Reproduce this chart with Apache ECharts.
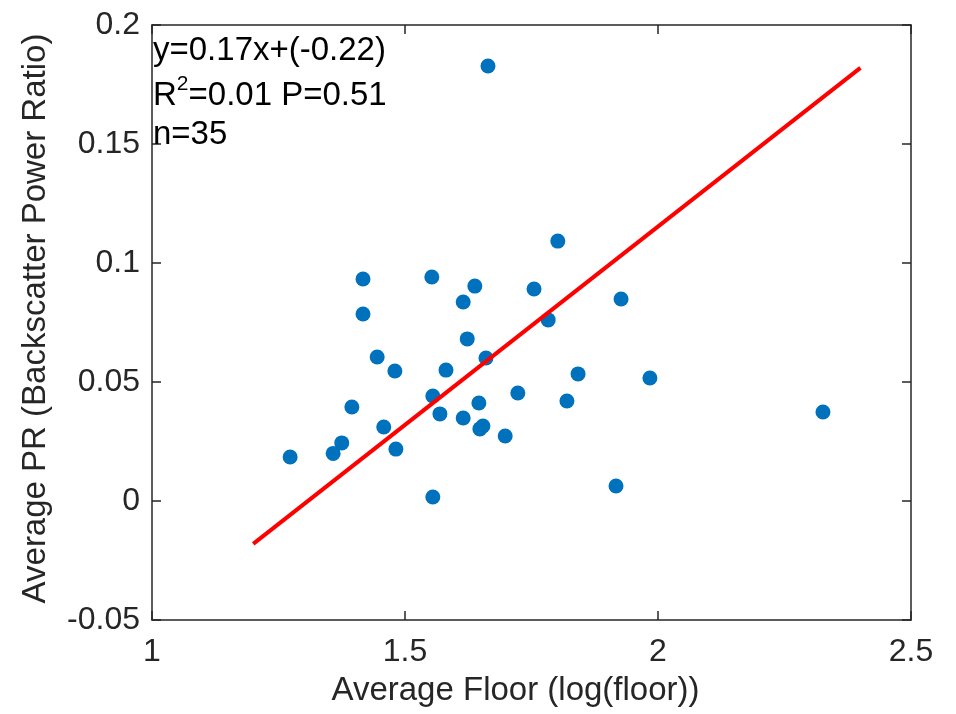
<!DOCTYPE html>
<html>
<head>
<meta charset="utf-8">
<script src="https://cdn.jsdelivr.net/npm/echarts@6/dist/echarts.min.js"></script>
<style>
html,body{margin:0;padding:0;background:#fff;}
#chart{width:956px;height:714px;}
</style>
</head>
<body>
<div id="chart"></div>
<script>
// Scatter data: average floor (log) vs average power ratio
var floorX = [1.273, 1.358, 1.375, 1.395, 1.417, 1.417, 1.445, 1.458, 1.480, 1.482,
              1.553, 1.555, 1.555, 1.569, 1.581, 1.615, 1.615, 1.623, 1.638, 1.646,
              1.648, 1.654, 1.660, 1.664, 1.698, 1.723, 1.755, 1.783, 1.802, 1.820,
              1.842, 1.917, 1.927, 1.984, 2.326];
var prY = [0.0185, 0.0200, 0.0244, 0.0395, 0.0933, 0.0786, 0.0605, 0.0311, 0.0546, 0.0218,
           0.0941, 0.0441, 0.0017, 0.0366, 0.0550, 0.0836, 0.0349, 0.0681, 0.0903, 0.0412,
           0.0303, 0.0315, 0.0601, 0.1828, 0.0273, 0.0454, 0.0891, 0.0761, 0.1092, 0.0420,
           0.0534, 0.0063, 0.0849, 0.0517, 0.0374];
// Fitted line endpoints
var fitX = [1.2, 2.4];
var fitY = [-0.018, 0.182];
// Axis ticks
var xTicks = [1, 1.5, 2, 2.5];
var yTicks = [-0.05, 0, 0.05, 0.1, 0.15, 0.2];
var xTickLabels = ['1', '1.5', '2', '2.5'];
var yTickLabels = ['-0.05', '0', '0.05', '0.1', '0.15', '0.2'];
// Annotation text
var annEq = 'y=0.17x+(-0.22)';
var annR2 = '0.01';
var annP = '0.51';
var annN = 'n=35';

var FONT = 'Liberation Sans, Arial, sans-serif';
var AX = '#262626';

function lab(list, labels) {
  return function (v) {
    for (var i = 0; i < list.length; i++) {
      if (Math.abs(list[i] - v) < 1e-9) return labels[i];
    }
    return '';
  };
}

var scatterData = floorX.map(function (x, i) { return [x, prY[i]]; });
var fitData = fitX.map(function (x, i) { return [x, fitY[i]]; });

var axisCommon = {
  axisLine: { show: true, onZero: false, lineStyle: { color: AX, width: 1.5 } },
  axisTick: { show: true, inside: true, length: 9, lineStyle: { color: AX, width: 1.5 } },
  splitLine: { show: false }
};

var chart = echarts.init(document.getElementById('chart'), null, { renderer: 'canvas' });
chart.setOption({
  animation: false,
  backgroundColor: '#fff',
  grid: { left: 152, right: 45, top: 25, bottom: 94, containLabel: false },
  xAxis: [
    Object.assign({
      type: 'value', position: 'bottom', min: 1, max: 2.5, interval: 0.5,
      name: 'Average Floor (log(floor))', nameLocation: 'middle', nameGap: 54,
      nameTextStyle: { fontFamily: FONT, fontSize: 33, color: AX, padding: [0, 32, 0, 0] },
      axisLabel: { show: true, margin: 16, fontFamily: FONT, fontSize: 32, color: AX,
                   formatter: lab(xTicks, xTickLabels) }
    }, axisCommon),
    Object.assign({
      type: 'value', position: 'top', min: 1, max: 2.5, interval: 0.5,
      axisLabel: { show: false }
    }, axisCommon)
  ],
  yAxis: [
    Object.assign({
      type: 'value', position: 'left', min: -0.05, max: 0.2, interval: 0.05,
      name: 'Average PR (Backscatter Power Ratio)', nameLocation: 'middle', nameGap: 100,
      nameRotate: 90,
      nameTextStyle: { fontFamily: FONT, fontSize: 33, color: AX, padding: [0, 0, 0, 8] },
      axisLabel: { show: true, margin: 12, fontFamily: FONT, fontSize: 32, color: AX,
                   formatter: lab(yTicks, yTickLabels) }
    }, axisCommon),
    Object.assign({
      type: 'value', position: 'right', min: -0.05, max: 0.2, interval: 0.05,
      axisLabel: { show: false }
    }, axisCommon)
  ],
  series: [
    {
      type: 'scatter', xAxisIndex: 0, yAxisIndex: 0,
      data: scatterData, symbol: 'circle', symbolSize: 15,
      itemStyle: { color: '#0072BD', opacity: 1 }, z: 3
    },
    {
      type: 'line', xAxisIndex: 0, yAxisIndex: 0,
      data: fitData, symbol: 'none',
      lineStyle: { color: '#FF0000', width: 4 }, z: 4
    }
  ],
  graphic: [
    { type: 'text', left: 153, top: 34, z: 10,
      style: { text: annEq, fontFamily: FONT, fontSize: 33, fill: '#000' } },
    { type: 'text', left: 153, top: 74, z: 10,
      style: {
        text: '{r|R}{s|2}{r|=' + annR2 + ' P=' + annP + '}',
        fill: '#000',
        rich: {
          r: { fontFamily: FONT, fontSize: 33, fill: '#000', lineHeight: 38, verticalAlign: 'bottom' },
          s: { fontFamily: FONT, fontSize: 21, fill: '#000', lineHeight: 24, verticalAlign: 'top' }
        }
      } },
    { type: 'text', left: 153, top: 118, z: 10,
      style: { text: annN, fontFamily: FONT, fontSize: 33, fill: '#000' } }
  ]
});
</script>
</body>
</html>
